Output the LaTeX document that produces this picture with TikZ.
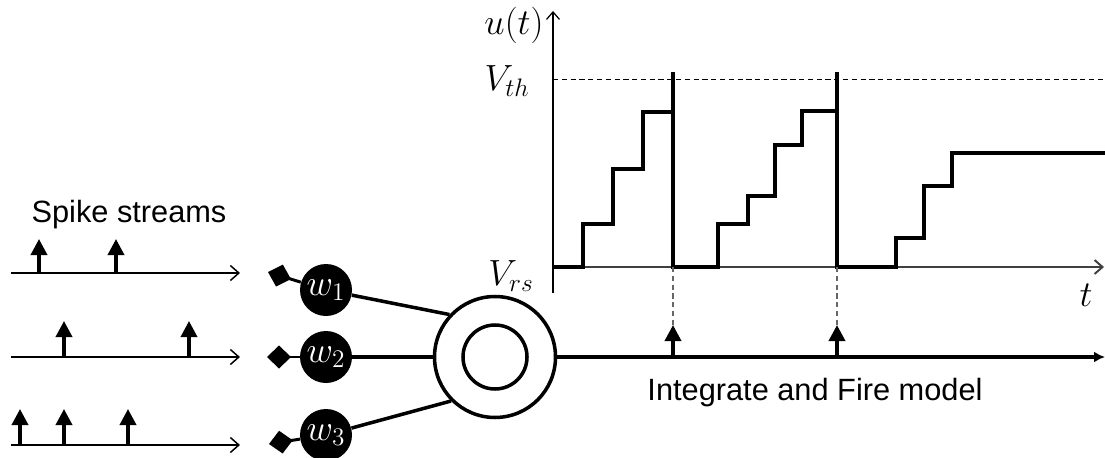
\documentclass[tikz,border=0pt]{standalone}
\usepackage{fontspec}
\newfontfamily\arialfont{Liberation Sans}
\usetikzlibrary{arrows.meta,shapes.geometric,positioning}

\begin{document}
\begin{tikzpicture}[
    every node/.style={font=\fontsize{17.5}{20}\selectfont\arialfont},
    mathlbl/.style={font=\fontsize{21}{24}\selectfont, inner sep=1pt},
    stream/.style={line width=0.85pt, -{Straight Barb[length=1.7mm, width=3mm]}},
    spike/.style={line width=2pt, -{Triangle[length=3.2mm, width=3.2mm]}},
    weight/.style={circle, fill=black, text=white, minimum size=1.04cm, inner sep=0pt, font=\fontsize{22}{24}\selectfont},
    syn/.style={line width=1.7pt, {Diamond[length=4.8mm, width=4.6mm]}-},
    link/.style={line width=2pt},
    stair/.style={line width=2.6pt}
  ]
        \useasboundingbox (0,0) rectangle (22.1,9.14);

        % Input spike streams
        \node (title) at (2.58,4.84) {Spike streams};
        \foreach \i/\y in {1/3.68, 2/2.0, 3/0.24} {
            \coordinate (in\i) at (0.22,\y);
            \coordinate (end\i) at (4.8,\y);
        }
        \draw[stream] (in1) -- (end1);
        \draw[stream] (in2) -- (end2);
        \draw[stream] (in3) -- (end3);
        \foreach \x in {0.78, 2.32} \draw[spike] (\x,3.68) -- ++(0,0.68);
        \foreach \x in {1.28, 3.78} \draw[spike] (\x,2.0) -- ++(0,0.72);
        \foreach \x in {0.40, 1.28, 2.56} \draw[spike] (\x,0.24) -- ++(0,0.72);

        % Synaptic weights
        \node[weight] (w1) at (6.52,3.34) {$w_1$};
        \node[weight] (w2) at (6.52,2.0) {$w_2$};
        \node[weight] (w3) at (6.52,0.44) {$w_3$};
        \coordinate (d1) at (5.36,3.7);
        \coordinate (d2) at (5.34,2.0);
        \coordinate (d3) at (5.38,0.26);
        \draw[syn] (d1) -- (w1);
        \draw[syn] (d2) -- (w2);
        \draw[syn] (d3) -- (w3);

        % Neuron
        \node[circle, draw, line width=2pt, minimum size=2.42cm] (neuron) at (9.9,2.0) {};
        \node[circle, draw, line width=2pt, minimum size=1.28cm] (core) at (neuron) {};
        \draw[link] (w1) -- (neuron.137);
        \draw[link] (w2) -- (neuron);
        \draw[link] (w3) -- (neuron.225);

        % Output spikes
        \coordinate (out) at (22.1,2.0);
        \draw[link, -{Latex[length=2.2mm, width=2.2mm]}] (neuron) -- (out);
        \foreach \x in {13.46, 16.74} \draw[spike] (\x,2.0) -- (\x,2.64);
        \node (ifm) at (16.3,1.28) {Integrate and Fire model};

        % Membrane potential
        \draw[line width=0.7pt, -{Straight Barb[length=1.5mm, width=2.6mm]}] (11.06,3.28) -- (11.06,8.92);
        \draw[line width=1.1pt, black!75, -{Straight Barb[length=1.6mm, width=2.8mm]}] (11.06,3.8) -- (22.08,3.8);
        \draw[line width=0.5pt, dash pattern=on 3pt off 2pt] (11.06,7.56) -- (22.1,7.56);
        \node[mathlbl] (ut) at (10.28,8.64) {$u(t)$};
        \node[mathlbl] (vth) at (10.14,7.52) {$V_{th}$};
        \node[mathlbl] (vrs) at (10.22,3.62) {$V_{rs}$};
        \node[mathlbl] (tl) at (21.72,3.24) {$t$};
        \draw[stair] (11.06,3.8) -| (11.66,4.66) -| (12.26,5.76) -| (12.86,6.9) -| (13.46,7.7) -- (13.46,3.8)
            -| (14.36,4.66) -| (14.96,5.22) -| (15.5,6.24) -| (16.04,6.92) -| (16.74,7.7) -- (16.74,3.8)
            -| (17.92,4.38) -| (18.48,5.42) -| (19.04,6.08) -- (22.1,6.08);
        \draw[black!60, line width=0.6pt, dash pattern=on 3pt off 2pt] (13.46,3.8) -- (13.46,2.64);
        \draw[black!60, line width=0.6pt, dash pattern=on 3pt off 2pt] (16.74,3.8) -- (16.74,2.64);
    \end{tikzpicture}
\end{document}
